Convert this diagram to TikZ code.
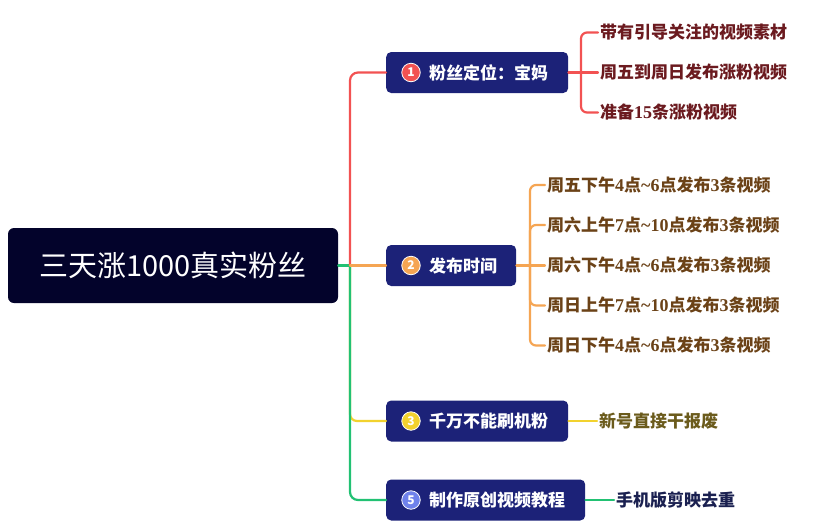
\documentclass[tikz,border=0pt]{standalone}
\usepackage{fontspec}
\setmainfont{Noto Sans CJK SC}
\newfontfamily\sr{Liberation Serif}
\definecolor{rootc}{HTML}{03032B}
\definecolor{catc}{HTML}{1C2278}
\definecolor{redl}{HTML}{F25252}
\definecolor{orl}{HTML}{F5A553}
\definecolor{yel}{HTML}{F2D22E}
\definecolor{grl}{HTML}{22C173}
\definecolor{bluec}{HTML}{6F82EC}
\definecolor{txa}{HTML}{6B1A1F}
\definecolor{txb}{HTML}{6B4217}
\definecolor{txc}{HTML}{6B5B1C}
\definecolor{txd}{HTML}{1A2050}
\tikzset{
  rootbox/.style={fill=rootc, rounded corners=6pt, minimum width=330pt, minimum height=75pt, text=white, font=\fontsize{29}{31}\selectfont, inner sep=0pt},
  catbox/.style={fill=catc, rounded corners=5pt, minimum height=41pt, anchor=west, inner sep=0pt},
  cattext/.style={text=white, font=\bfseries\fontsize{17}{19}\selectfont, anchor=west, inner sep=0pt},
  badge/.style={circle, draw=white, line width=0.8pt, minimum size=18.5pt, inner sep=0pt, text=white, font=\bfseries\fontsize{12}{13}\selectfont},
  leaf/.style={anchor=west, inner xsep=2pt, inner ysep=0pt, font=\bfseries\fontsize{17}{19}\selectfont},
  conn/.style={line width=2.2pt, line cap=round},
}
\newcommand{\dg}[1]{{\sr\bfseries\fontsize{18}{19}\selectfont #1}}
\begin{document}
\begin{tikzpicture}[x=1pt,y=-1pt]
\useasboundingbox (0,0) rectangle (819,528);
\fill[white] (0,0) rectangle (819,528);

% root
\node[rootbox] (root) at (173,265.5) {三天涨1000真实粉丝};

% category boxes
\node[catbox, minimum width=182pt] (c1) at (386,72.5) {};
\node[catbox, minimum width=130pt] (c2) at (386,265.5) {};
\node[catbox, minimum width=182pt] (c3) at (386,421) {};
\node[catbox, minimum width=199pt] (c4) at (386,500) {};

\node[badge, fill=redl] (b1) at (411,72.5) {1};
\node[badge, fill=orl] (b2) at (411,265.5) {2};
\node[badge, fill=yel] (b3) at (411,421) {3};
\node[badge, fill=bluec] (b4) at (411,500) {5};

\node[cattext] (t1) at (429,72.5) {粉丝定位：宝妈};
\node[cattext] (t2) at (429,265.5) {发布时间};
\node[cattext] (t3) at (429,421) {千万不能刷机粉};
\node[cattext] (t4) at (429,500) {制作原创视频教程};

% main connectors
\coordinate (j) at (350,265.5);
\draw[conn, yel, rounded corners=7pt] (j) |- (c3.west);
\draw[conn, grl] (root.east) -- (j);
\draw[conn, grl, rounded corners=8pt] (j) |- (c4.west);
\draw[conn, redl, rounded corners=8pt] (j) |- (c1.west);
\draw[conn, orl] (j) -- (c2.west);

% leaves of c1
\node[leaf, text=txa] (l11) at (598,32.5) {带有引导关注的视频素材};
\node[leaf, text=txa] (l12) at (598,72.5) {周五到周日发布涨粉视频};
\node[leaf, text=txa] (l13) at (598,112.5) {准备\dg{15}条涨粉视频};
\coordinate (k1) at (581,72.5);
\draw[conn, redl] (c1.east) -- (l12.west);
\draw[conn, redl, rounded corners=6pt] (k1) |- (l11.west);
\draw[conn, redl, rounded corners=6pt] (k1) |- (l13.west);

% leaves of c2
\node[leaf, text=txb] (l21) at (545,185) {周五下午\dg{4}点\dg{\char`\~6}点发布\dg{3}条视频};
\node[leaf, text=txb] (l22) at (545,225) {周六上午\dg{7}点\dg{\char`\~10}点发布\dg{3}条视频};
\node[leaf, text=txb] (l23) at (545,265.5) {周六下午\dg{4}点\dg{\char`\~6}点发布\dg{3}条视频};
\node[leaf, text=txb] (l24) at (545,305.5) {周日上午\dg{7}点\dg{\char`\~10}点发布\dg{3}条视频};
\node[leaf, text=txb] (l25) at (545,345.5) {周日下午\dg{4}点\dg{\char`\~6}点发布\dg{3}条视频};
\coordinate (k2) at (530,265.5);
\draw[conn, orl] (c2.east) -- (l23.west);
\draw[conn, orl, rounded corners=6pt] (k2) |- (l21.west);
\draw[conn, orl, rounded corners=6pt] (k2) |- (l22.west);
\draw[conn, orl, rounded corners=6pt] (k2) |- (l24.west);
\draw[conn, orl, rounded corners=6pt] (k2) |- (l25.west);

% leaf of c3
\node[leaf, text=txc] (l31) at (597,421) {新号直接干报废};
\draw[conn, yel] (c3.east) -- (l31.west);

% leaf of c4
\node[leaf, text=txd] (l41) at (614,500) {手机版剪映去重};
\draw[conn, grl] (c4.east) -- (l41.west);
\end{tikzpicture}
\end{document}
